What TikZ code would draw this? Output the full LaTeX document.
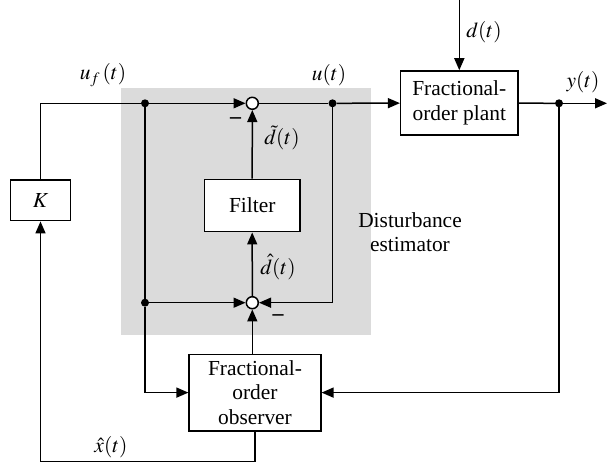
\documentclass[tikz,border=0pt]{standalone}
\usepackage{mathptmx}
\usepackage[no-math]{fontspec}
\setmainfont{Liberation Serif}
\usetikzlibrary{arrows.meta}
\begin{document}
\begin{tikzpicture}[x=1bp,y=-1bp,
  every node/.style={font=\fontsize{21.5}{24.5}\selectfont},
  line/.style={line width=1.5bp},
  arr/.style={line, -{Triangle[length=12bp,width=10bp]}},
  blk/.style={draw, line width=1.5bp, fill=white, inner sep=0, align=center},
  sumnode/.style={circle, draw, line width=1.5bp, fill=white, minimum size=12bp, inner sep=0},
  dotnode/.style={circle, fill=black, minimum size=8bp, inner sep=0},
  lbl/.style={inner sep=0},
  minus/.style={inner sep=0, font=\fontsize{22}{24}\selectfont\bfseries}
]
\useasboundingbox (0,0) rectangle (607,469);
\fill[black!14] (121,88) rectangle (371,335);

% blocks
\node[blk, minimum width=60.4bp, minimum height=40.7bp] (K) at (40.5,200.3) {$K$};
\node[blk, minimum width=117.3bp, minimum height=64bp] (plant) at (459.3,103) {Fractional-\\order plant};
\node[blk, minimum width=95.7bp, minimum height=52.4bp] (filter) at (252.2,205.5) {Filter};
\node[blk, minimum width=131.7bp, minimum height=76.7bp] (obs) at (255,392.6) {Fractional-\\order\\observer};

% summers and junctions
\node[sumnode] (s1) at (252.3,103.3) {};
\node[sumnode] (s2) at (252.3,302.7) {};
\node[dotnode] (j1) at (145,103.3) {};
\node[dotnode] (j2) at (145,302.7) {};
\node[dotnode] (ju) at (332.5,103.3) {};
\node[dotnode] (jy) at (559,103.3) {};
\coordinate (yout) at (607,103.3);
\coordinate (dtop) at (459.3,0);
\coordinate (bot) at (255,461.7);

% connectors
\draw[line] (K.north) |- (j1);
\draw[arr] (j1) -- (s1);
\draw[line] (s1) -- (ju);
\draw[arr] (ju) -- (plant);
\draw[line] (plant) -- (jy);
\draw[arr] (jy) -- (yout);
\draw[arr] (dtop) -- (plant.north);
\draw[arr] (filter.north) -- (s1.south);
\draw[arr] (s2.north) -- (filter.south);
\draw[arr] (ju) |- (s2);
\draw[line] (j1) -- (j2);
\draw[arr] (j2) -- (s2);
\draw[arr] (j2) |- (obs.west);
\draw[arr] (jy) |- (obs.east);
\draw[arr] (s2 |- obs.north) -- (s2.south);
\draw[arr] (obs.south) -- (bot) -| (K.south);

% labels
\node[lbl] (luf) at (103,75) {$u_f\,(t)$};
\node[lbl] (lu) at (329,75) {$u(t)$};
\node[lbl] (ld) at (484,32) {$d(t)$};
\node[lbl] (ly) at (583,82) {$y(t)$};
\node[lbl] (ldt) at (282,138) {$\tilde{d}(t)$};
\node[lbl] (ldh) at (278,267) {$\hat{d}(t)$};
\node[lbl] (lxh) at (111,447) {$\hat{x}(t)$};
\node[minus] (m1) at (235.5,120.7) {--};
\node[minus] (m2) at (278,317.7) {--};
\node[lbl, align=center] (dest) at (410,232) {Disturbance\\estimator};
\end{tikzpicture}
\end{document}
